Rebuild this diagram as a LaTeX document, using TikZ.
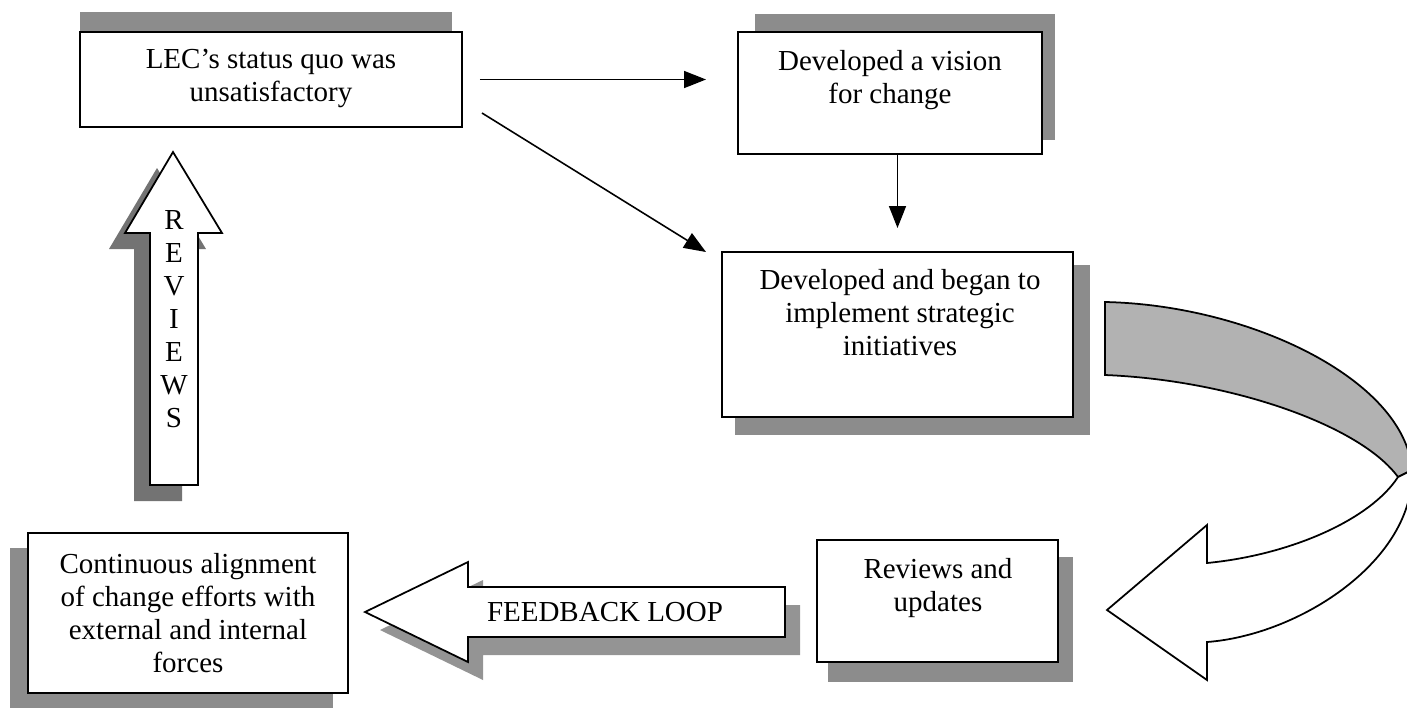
\documentclass[tikz,border=0pt]{standalone}
\usepackage{fontspec}
\setmainfont{Liberation Serif}
\usetikzlibrary{arrows.meta,calc}
\begin{document}
\begin{tikzpicture}[x=0.02cm,y=-0.02cm,
  box/.style={draw=black, line width=1.1pt, fill=white, inner sep=0pt, outer sep=0pt},
  boxshade/.style={fill=black!45},
  arrowshade/.style={fill=black!55},
  fbshade/.style={fill=black!42},
  bandshade/.style={fill=black!30},
  lbl/.style={align=center, font=\fontsize{16.5}{18.8}\selectfont, inner sep=0pt},
  link/.style={line width=0.9pt, -{Triangle[length=0.44cm,width=0.34cm]}},
  blockarrow/.style={draw=black, line width=1pt, fill=white, line join=miter}]
\useasboundingbox (0,0) rectangle (1407,708);
\clip (0,0) rectangle (1407,708);

% drop shadows behind the boxes
\fill[boxshade] (80,12) rectangle (452,100);
\fill[boxshade] (755,14) rectangle (1055,140);
\fill[boxshade] (735,265) rectangle (1090,435);
\fill[boxshade] (10,548) rectangle (333,708);
\fill[boxshade] (828,557) rectangle (1073,682);

% boxes
\node[box, minimum width=7.64cm, minimum height=1.9cm] (status) at (271,79.5) {};
\node[box, minimum width=6.08cm, minimum height=2.44cm] (vision) at (890,93) {};
\node[box, minimum width=7.02cm, minimum height=3.3cm] (strat) at (897.5,334.5) {};
\node[box, minimum width=6.4cm, minimum height=3.2cm] (align) at (188,613) {};
\node[box, minimum width=4.82cm, minimum height=2.44cm] (review) at (937.5,601) {};

% box texts
\node[lbl] (statust) at (271,78) {LEC's status quo was\\unsatisfactory};
\node[lbl] (visiont) at (890,80) {Developed a vision\\for change};
\node[lbl] (stratt) at (900,313) {Developed and began to\\implement strategic\\initiatives};
\node[lbl] (alignt) at (188,613) {Continuous alignment\\of change efforts with\\external and internal\\forces};
\node[lbl] (reviewt) at (938,588) {Reviews and\\updates};

% connectors
\draw[link] ($(status.east)+(18,0)$) -- ($(vision.west|-status.east)+(-32,0)$);
\draw[link] ($(status.south east)+(20,-14)$) -- ($(strat.north west)+(-16,0)$);
\draw[link] (vision.south-|strat.north) -- ($(strat.north)+(0,-24)$);

% REVIEWS block arrow
\fill[arrowshade] (134,501) -- (134,249) -- (109,249) -- (157,168) -- (206,249) -- (182,249) -- (182,501) -- cycle;
\draw[blockarrow] (150,485) -- (150,233) -- (125,233) -- (173,152) -- (222,233) -- (198,233) -- (198,485) -- cycle;
\node[lbl] (reviews) at (174,319) {R\\E\\V\\I\\E\\W\\S};

% FEEDBACK LOOP block arrow
\fill[fbshade] (380,630) -- (483,580) -- (483,605) -- (800,605) -- (800,655) -- (483,655) -- (483,680) -- cycle;
\draw[blockarrow] (365,612) -- (468,562) -- (468,587) -- (785,587) -- (785,637) -- (468,637) -- (468,662) -- cycle;
\node[lbl] (feedback) at (605,612) {FEEDBACK LOOP};

% curved ribbon arrow: shaded back face, then white front with head
\filldraw[bandshade, draw=black, line width=1pt] (1105,302) .. controls (1250,305) and (1405,380) .. (1412,470)
  -- (1398,477) .. controls (1360,425) and (1230,380) .. (1105,375) -- cycle;
\draw[blockarrow] (1398,477) .. controls (1370,520) and (1290,555) .. (1207,563) -- (1207,525) -- (1107,610)
  -- (1207,680) -- (1207,642) .. controls (1300,635) and (1415,560) .. (1412,470) -- cycle;
\end{tikzpicture}
\end{document}
